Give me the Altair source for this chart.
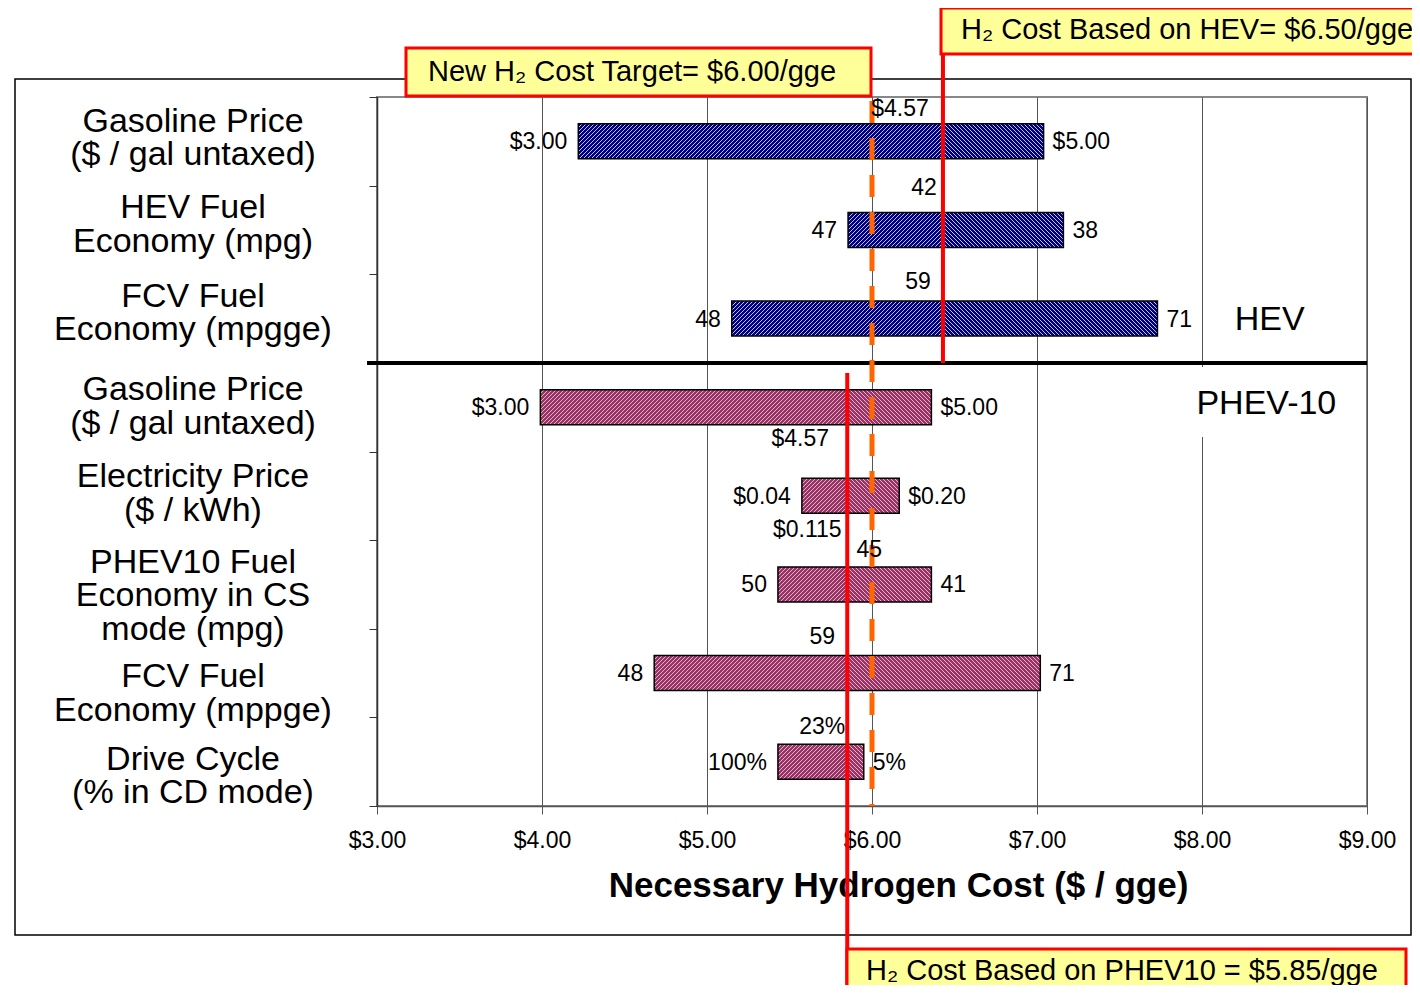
import altair as alt
import pandas as pd

# ---------------- data ----------------
categories = [
    "Gasoline Price\n($ / gal untaxed)",
    "HEV Fuel\nEconomy (mpg)",
    "FCV Fuel\nEconomy (mpgge)",
    "Gasoline Price\n($ / gal untaxed)",
    "Electricity Price\n($ / kWh)",
    "PHEV10 Fuel\nEconomy in CS\nmode (mpg)",
    "FCV Fuel\nEconomy (mppge)",
    "Drive Cycle\n(% in CD mode)",
]
vehicle = ["HEV", "HEV", "HEV", "PHEV", "PHEV", "PHEV", "PHEV", "PHEV"]
low_cost = [4.22, 5.855, 5.15, 3.99, 5.575, 5.43, 4.68, 5.43]
high_cost = [7.04, 7.16, 7.73, 6.36, 6.165, 6.36, 7.02, 5.95]
hev_base = 6.43
phev_base = 5.85
target_cost = 6.00
low_text = ["$3.00", "47", "48", "$3.00", "$0.04", "50", "48", "100%"]
high_text = ["$5.00", "38", "71", "$5.00", "$0.20", "41", "71", "5%"]
base_text = ["$4.57", "42", "59", "$4.57", "$0.115", "45", "59", "23%"]
x_ticks = [3, 4, 5, 6, 7, 8, 9]
group_names = ["HEV", "PHEV-10"]
group_x = [8.41, 8.39]
group_y = [2.52, 3.46]
box_texts = [
    "New H\u2082 Cost Target= $6.00/gge",
    "H\u2082 Cost Based on HEV= $6.50/gge",
    "H\u2082 Cost Based on PHEV10 = $5.85/gge",
]

# ---------------- layout / style ----------------
W, H = 990, 709
NROW = 8
ROW = H / NROW
X0 = x_ticks[0]
PX = W / (x_ticks[-1] - x_ticks[0])
FONT = "Liberation Sans"
LH = 33.5
label_nudge = [-3, -5, -5, 0, -2, 12, 21, 15]          # px, category label block centres
base_dx = [-43, -19, -25, -47, -40, 22, -25, -25]       # px, base value labels
base_dy = [-32, -42, -37, 32, 34, -34, -36, -35]
FILL = {"HEV": "#000080", "PHEV": "#993366"}
STRIPE = {"HEV": "#C4C4F2", "PHEV": "#E2B4CA"}
HATCH_PERIOD = 4.0

xscale = alt.Scale(domain=[x_ticks[0], x_ticks[-1]], nice=False, zero=False)
yscale = alt.Scale(domain=[0, NROW], reverse=True, nice=False, zero=False)
xaxis = alt.Axis(values=x_ticks, format="$.2f", title="Necessary Hydrogen Cost ($ / gge)",
                 titleFontSize=35, titleFontWeight="bold", titleX=521, titleY=79,
                 titleBaseline="middle", titleAlign="center", titleColor="black",
                 labelFontSize=23, labelPadding=15, labelColor="black", labelFlush=False,
                 tickSize=8, tickColor="#555555", domainColor="#555555", domainWidth=1.5,
                 grid=True, gridColor="#555555", gridWidth=1)
yaxis = alt.Axis(values=list(range(NROW + 1)), labels=False, tickSize=8, grid=False,
                 domainColor="#333333", tickColor="#333333", domainWidth=1.5)


def X(f):
    return alt.X(f, type="quantitative", scale=xscale, axis=xaxis, title="Necessary Hydrogen Cost ($ / gge)")


def Y(f):
    return alt.Y(f, type="quantitative", scale=yscale, axis=yaxis, title=None)


def hatch_lines(xa, xb, ya, yb, direction, period):
    """diagonal hatch segments inside pixel rectangle, returned in pixel units"""
    segs = []
    if direction == "/":          # x + y = c
        k = int((xa + ya) // period) + 1
        while k * period < xb + yb:
            c = k * period
            xs, xe = max(xa, c - yb), min(xb, c - ya)
            if xe > xs:
                segs.append((xs, c - xs, xe, c - xe))
            k += 1
    else:                         # x - y = c
        k = int((xa - yb) // period) + 1
        while k * period < xb - ya:
            c = k * period
            xs, xe = max(xa, ya + c), min(xb, yb + c)
            if xe > xs:
                segs.append((xs, xs - c, xe, xe - c))
            k += 1
    return segs


BAR_LO, BAR_HI = 0.3025, 0.6975
seg_rows = []
hatch_rows = []
for i in range(NROW):
    base = hev_base if vehicle[i] == "HEV" else phev_base
    for lo, hi, d in [(low_cost[i], base, "/"), (base, high_cost[i], "\\")]:
        seg_rows.append({"x": lo, "x2": hi, "y": i + BAR_LO, "y2": i + BAR_HI,
                         "fill": FILL[vehicle[i]]})
        for (x1, y1, x2, y2) in hatch_lines((lo - X0) * PX, (hi - X0) * PX,
                                           (i + BAR_LO) * ROW, (i + BAR_HI) * ROW, d, HATCH_PERIOD):
            hatch_rows.append({"x": X0 + x1 / PX, "y": y1 / ROW, "x2": X0 + x2 / PX, "y2": y2 / ROW,
                               "c": STRIPE[vehicle[i]]})
seg_df = pd.DataFrame(seg_rows)
hatch_df = pd.DataFrame(hatch_rows)

layers = []

# outer frame
layers.append(
    alt.Chart(pd.DataFrame({"k": [0]})).mark_rect(fillOpacity=0, stroke="black", strokeWidth=1.5)
    .encode(x=alt.value(-362), x2=alt.value(1034), y=alt.value(-18), y2=alt.value(838))
)

# axes carrier (invisible)
layers.append(
    alt.Chart(pd.DataFrame({"x": [x_ticks[0]], "y": [0]})).mark_point(opacity=0)
    .encode(x=X("x"), y=Y("y"))
)

# white background behind PHEV-10 label
layers.append(
    alt.Chart(pd.DataFrame({"k": [0]})).mark_rect(fill="white")
    .encode(x=alt.value(813), x2=alt.value(968), y=alt.value(270), y2=alt.value(340))
)

# bars: solid fill, hatch lines, outline
layers.append(
    alt.Chart(seg_df).mark_bar(strokeWidth=0)
    .encode(x=X("x"), x2="x2", y=Y("y"), y2="y2", fill=alt.Fill("fill:N", scale=None))
)
layers.append(
    alt.Chart(hatch_df).mark_rule(strokeWidth=1.0, strokeCap="butt")
    .encode(x=X("x"), y=Y("y"), x2="x2", y2="y2", color=alt.Color("c:N", scale=None))
)
layers.append(
    alt.Chart(seg_df).mark_bar(fillOpacity=0, stroke="black", strokeWidth=1.5)
    .encode(x=X("x"), x2="x2", y=Y("y"), y2="y2")
)

# separator line between HEV and PHEV
layers.append(
    alt.Chart(pd.DataFrame({"y": [3]})).mark_rule(color="black", strokeWidth=4)
    .encode(y=Y("y"), x=alt.value(-10), x2=alt.value(W))
)

# target dashed line
layers.append(
    alt.Chart(pd.DataFrame({"x": [target_cost]})).mark_rule(color="#FF6600", strokeWidth=5,
                                                           strokeDash=[22, 15], strokeCap="butt")
    .encode(x=X("x"), y=alt.value(4), y2=alt.value(H))
)

# red lines
layers.append(
    alt.Chart(pd.DataFrame({"x": [hev_base]})).mark_rule(color="#FF0000", strokeWidth=4)
    .encode(x=X("x"), y=alt.value(-43), y2=alt.value(3 * ROW))
)
layers.append(
    alt.Chart(pd.DataFrame({"x": [phev_base]})).mark_rule(color="#FF0000", strokeWidth=4)
    .encode(x=X("x"), y=alt.value(276), y2=alt.value(900))
)

# annotation boxes
for (bx1, bx2, by1, by2) in [(29, 494, -49, -1), (564, 1070, -89, -43), (470, 1029, 852, 910)]:
    layers.append(
        alt.Chart(pd.DataFrame({"k": [0]})).mark_rect(fill="#FFFF99", stroke="#FF0000", strokeWidth=3)
        .encode(x=alt.value(bx1), x2=alt.value(bx2), y=alt.value(by1), y2=alt.value(by2))
    )
for t, (tx, ty) in zip(box_texts, [(51, -25), (584, -67), (489, 874)]):
    layers.append(
        alt.Chart(pd.DataFrame({"t": [t]})).mark_text(align="left", baseline="middle", fontSize=29,
                                                     font=FONT, color="black")
        .encode(x=alt.value(tx), y=alt.value(ty), text="t:N")
    )

# category labels (first line position so the block is centred)
cat_y = []
for i, c in enumerate(categories):
    n = c.count("\n") + 1
    cat_y.append(i + 0.5 + (label_nudge[i] - (n - 1) * LH / 2) / ROW)
cat_df = pd.DataFrame({"t": categories, "y": cat_y})
layers.append(
    alt.Chart(cat_df).mark_text(align="center", baseline="middle", fontSize=34, lineHeight=LH,
                                lineBreak="\n", font=FONT, color="black")
    .encode(x=alt.value(-184), y=Y("y"), text="t:N")
)

# value labels
lo_df = pd.DataFrame({"x": low_cost, "y": [i + 0.5 for i in range(NROW)], "t": low_text})
hi_df = pd.DataFrame({"x": high_cost, "y": [i + 0.5 for i in range(NROW)], "t": high_text})
layers.append(
    alt.Chart(lo_df).mark_text(align="right", baseline="middle", dx=-11, dy=1, fontSize=23, font=FONT, color="black")
    .encode(x=X("x"), y=Y("y"), text="t:N")
)
layers.append(
    alt.Chart(hi_df).mark_text(align="left", baseline="middle", dx=9, dy=1, fontSize=23, font=FONT, color="black")
    .encode(x=X("x"), y=Y("y"), text="t:N")
)
bases = [hev_base if v == "HEV" else phev_base for v in vehicle]
base_df = pd.DataFrame({
    "x": [bases[i] + base_dx[i] / PX for i in range(NROW)],
    "y": [i + 0.5 + base_dy[i] / ROW for i in range(NROW)],
    "t": base_text,
})
layers.append(
    alt.Chart(base_df).mark_text(align="center", baseline="middle", fontSize=23, font=FONT, color="black")
    .encode(x=X("x"), y=Y("y"), text="t:N")
)

# group labels
grp_df = pd.DataFrame({"x": group_x, "y": group_y, "t": group_names})
layers.append(
    alt.Chart(grp_df).mark_text(align="center", baseline="middle", fontSize=34, font=FONT, color="black")
    .encode(x=X("x"), y=Y("y"), text="t:N")
)

chart = (
    alt.layer(*layers)
    .properties(width=W, height=H,
                padding={"left": 369, "top": 89, "right": 45, "bottom": 179},
                autosize=alt.AutoSizeParams(type="none"))
    .configure(font=FONT)
    .configure_view(stroke="#888888", strokeWidth=2)
)

chart.save("out.html", embed_options={"renderer": "svg", "actions": False})
